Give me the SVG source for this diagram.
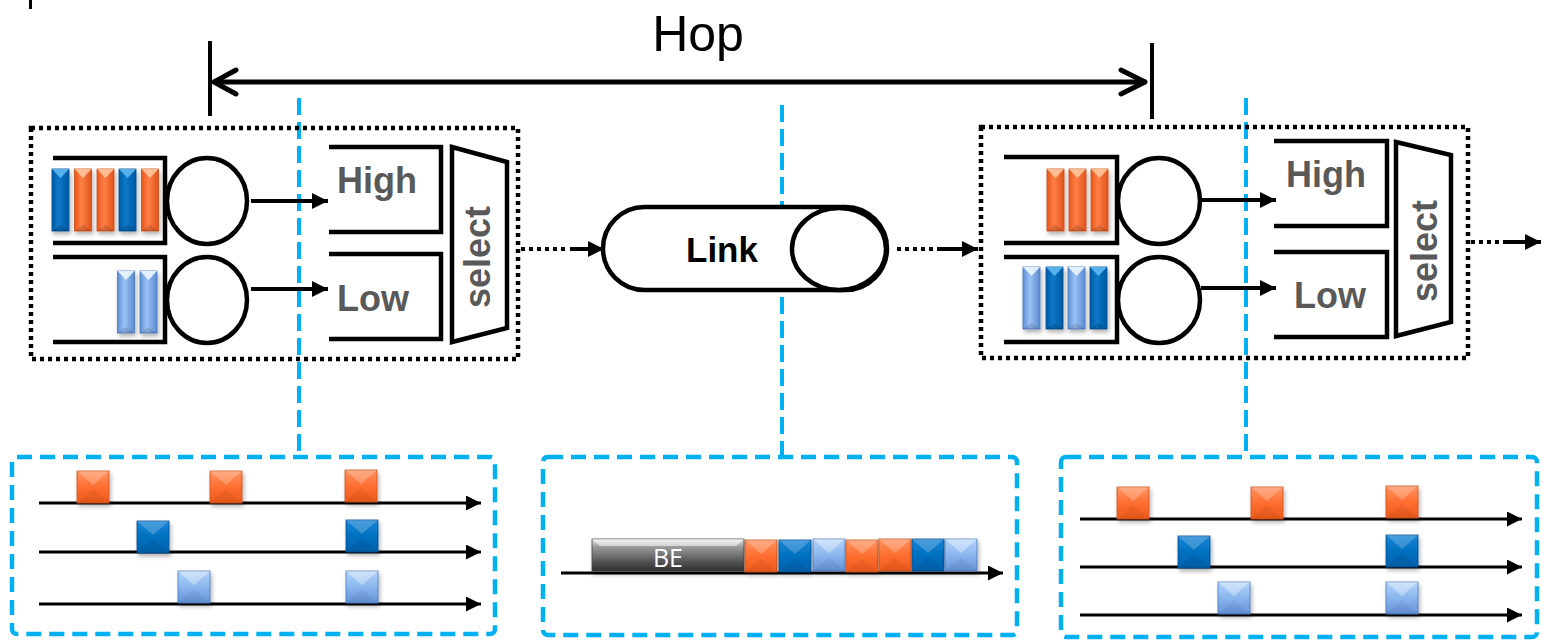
<svg xmlns="http://www.w3.org/2000/svg" xmlns:xlink="http://www.w3.org/1999/xlink" width="1541" height="641" viewBox="0 0 1541 641">
<style>
.ln{fill:none;stroke:#000;stroke-width:4.5;stroke-linejoin:miter}
.dotbox{fill:none;stroke:#000;stroke-width:4.5;stroke-dasharray:4 4}
.blue{fill:none;stroke:#00B0F0;stroke-width:4;stroke-dasharray:17 7}
.bluebox{fill:none;stroke:#00B0F0;stroke-width:4.5;stroke-dasharray:15 8}
.arr{stroke:#000;stroke-width:4;fill:none}
.tl{stroke:#000;stroke-width:3;fill:none}
.dots{stroke:#000;stroke-width:4;stroke-dasharray:4 4;fill:none}
.lab{font-family:"Liberation Sans",Arial,sans-serif;font-weight:bold;font-size:36px;fill:#595959}
.circ{fill:#fff;stroke:#000;stroke-width:4.5}
</style>
<defs>
<marker id="ah" viewBox="0 0 10 10" refX="10" refY="5" markerWidth="4" markerHeight="4" orient="auto" markerUnits="strokeWidth"><path d="M0,0 L10,5 L0,10 z" fill="#000"/></marker>
<marker id="ah2" viewBox="0 0 10 10" refX="10" refY="5" markerWidth="5" markerHeight="5" orient="auto" markerUnits="strokeWidth"><path d="M0,0 L10,5 L0,10 z" fill="#000"/></marker>
<filter id="sh" x="-30%" y="-30%" width="160%" height="160%"><feDropShadow dx="1.5" dy="3" stdDeviation="2" flood-color="#000" flood-opacity="0.3"/></filter>
<linearGradient id="gO" x1="0" y1="0" x2="0" y2="1"><stop offset="0" stop-color="#FF9463"/><stop offset="0.5" stop-color="#FF6E30"/><stop offset="1" stop-color="#EE5A1C"/></linearGradient>
<linearGradient id="gB" x1="0" y1="0" x2="0" y2="1"><stop offset="0" stop-color="#1A86D6"/><stop offset="0.5" stop-color="#0070C0"/><stop offset="1" stop-color="#0062AE"/></linearGradient>
<linearGradient id="gL" x1="0" y1="0" x2="0" y2="1"><stop offset="0" stop-color="#B4D4FA"/><stop offset="0.5" stop-color="#8AB6EE"/><stop offset="1" stop-color="#6594DA"/></linearGradient>
<linearGradient id="gBE" x1="0" y1="0" x2="0" y2="1"><stop offset="0" stop-color="#E6E6E6"/><stop offset="0.25" stop-color="#9A9A9A"/><stop offset="0.7" stop-color="#555"/><stop offset="1" stop-color="#2E2E2E"/></linearGradient>
<linearGradient id="hO" x1="0" y1="0" x2="1" y2="0"><stop offset="0" stop-color="#E8561A"/><stop offset="0.4" stop-color="#FF8048"/><stop offset="1" stop-color="#E0531A"/></linearGradient>
<linearGradient id="hB" x1="0" y1="0" x2="1" y2="0"><stop offset="0" stop-color="#005EA8"/><stop offset="0.4" stop-color="#0A78C8"/><stop offset="1" stop-color="#005AA2"/></linearGradient>
<linearGradient id="hL" x1="0" y1="0" x2="1" y2="0"><stop offset="0" stop-color="#5E8FD6"/><stop offset="0.4" stop-color="#9BC2F4"/><stop offset="1" stop-color="#5A8BD2"/></linearGradient>
<g id="sqO" filter="url(#sh)"><rect width="32" height="32" fill="url(#gO)" stroke="#C8501C" stroke-width="0.8"/><polygon points="0,0 32,0 16,14" fill="#fff" opacity="0.22"/><polygon points="0,32 32,32 16,18" fill="#000" opacity="0.05"/></g>
<g id="sqB" filter="url(#sh)"><rect width="32" height="32" fill="url(#gB)" stroke="#004C8C" stroke-width="0.8"/><polygon points="0,0 32,0 16,14" fill="#fff" opacity="0.2"/><polygon points="0,32 32,32 16,18" fill="#000" opacity="0.06"/></g>
<g id="sqL" filter="url(#sh)"><rect width="32" height="32" fill="url(#gL)" stroke="#4A78BC" stroke-width="0.8"/><polygon points="0,0 32,0 16,14" fill="#fff" opacity="0.35"/><polygon points="0,32 32,32 16,18" fill="#000" opacity="0.05"/></g>
<g id="barO" filter="url(#sh)"><rect width="17" height="62" fill="url(#hO)" stroke="#C8501C" stroke-width="0.8"/><polygon points="0,0 17,0 8.5,9" fill="#FFD0A8" opacity="0.8"/><polygon points="0,62 17,62 8.5,56" fill="#000" opacity="0.15"/></g>
<g id="barB" filter="url(#sh)"><rect width="17" height="62" fill="url(#hB)" stroke="#004C8C" stroke-width="0.8"/><polygon points="0,0 17,0 8.5,9" fill="#5FB8F0" opacity="0.9"/><polygon points="0,62 17,62 8.5,56" fill="#000" opacity="0.15"/></g>
<g id="barL" filter="url(#sh)"><rect width="17" height="62" fill="url(#hL)" stroke="#4A78BC" stroke-width="0.8"/><polygon points="0,0 17,0 8.5,9" fill="#E6F2FF" opacity="0.95"/><polygon points="0,62 17,62 8.5,56" fill="#000" opacity="0.12"/></g>
</defs>

<rect width="1541" height="641" fill="#fff"/>

<g id="hop">
<line x1="30.5" y1="0" x2="30.5" y2="9" stroke="#000" stroke-width="3"/>
<text x="698" y="51" font-family="'Liberation Sans',Arial,sans-serif" font-size="50" text-anchor="middle" fill="#000">Hop</text>
<line x1="210" y1="41" x2="210" y2="116" stroke="#000" stroke-width="4"/>
<line x1="1152" y1="43" x2="1152" y2="119" stroke="#000" stroke-width="4"/>
<line x1="214" y1="82" x2="1146" y2="82" stroke="#000" stroke-width="5"/>
<path d="M236,70 L214,82 L236,94 M1121,70 L1145,82 L1121,94" fill="none" stroke="#000" stroke-width="5" stroke-linecap="round" stroke-linejoin="round"/>
</g>

<g id="connectors">
<line class="blue" x1="299" y1="98" x2="299" y2="457"/>
<line class="blue" x1="782" y1="105" x2="782" y2="457"/>
<line class="blue" x1="1246" y1="98" x2="1246" y2="457"/>
<line class="dots" x1="521" y1="249" x2="566" y2="249"/>
<line class="arr" x1="570" y1="249" x2="604" y2="249" marker-end="url(#ah)"/>
<line class="dots" x1="897" y1="249" x2="940" y2="249"/>
<line class="arr" x1="940" y1="249" x2="978" y2="249" marker-end="url(#ah)"/>
<line class="dots" x1="1471" y1="242" x2="1505" y2="242"/>
<line class="arr" x1="1505" y1="242" x2="1541" y2="242" marker-end="url(#ah)"/>
</g>

<g id="node-left">
<rect class="dotbox" x="31" y="128" width="487" height="231"/>
<path class="ln" d="M53,158 H165 V243 H53"/>
<path class="ln" d="M53,257 H165 V342 H53"/>
<use href="#barB" x="52" y="169"/>
<use href="#barO" x="74.5" y="169"/>
<use href="#barO" x="97" y="169"/>
<use href="#barB" x="119" y="169"/>
<use href="#barO" x="141.5" y="169"/>
<use href="#barL" x="117.5" y="271"/>
<use href="#barL" x="140" y="271"/>
<ellipse class="circ" cx="207" cy="201" rx="40" ry="43"/>
<ellipse class="circ" cx="207" cy="300" rx="40" ry="43"/>
<line class="arr" x1="251" y1="201" x2="328" y2="201" marker-end="url(#ah)"/>
<line class="arr" x1="251" y1="289" x2="328" y2="289" marker-end="url(#ah)"/>
<path class="ln" d="M329,147 H441 V232 H329"/>
<path class="ln" d="M329,254 H441 V339 H329"/>
<text class="lab" x="337" y="193">High</text>
<text class="lab" x="337" y="311">Low</text>
<polygon class="ln" points="452,147 507,162 507,328 452,342"/>
<text class="lab" transform="translate(490,257) rotate(-90)" text-anchor="middle">select</text>
</g>

<g id="link">
<rect x="603" y="207" width="284" height="83" rx="41.5" fill="#fff" stroke="#000" stroke-width="4.5"/>
<ellipse cx="839" cy="249" rx="47" ry="41" fill="#fff" stroke="#000" stroke-width="4.5"/>
<text x="722" y="262" font-family="'Liberation Sans',Arial,sans-serif" font-weight="bold" font-size="35" text-anchor="middle" fill="#000">Link</text>
</g>

<g id="node-right">
<rect class="dotbox" x="981" y="127" width="487" height="231"/>
<path class="ln" d="M1004,157 H1117 V243 H1004"/>
<path class="ln" d="M1004,257 H1117 V342 H1004"/>
<use href="#barO" x="1047" y="169"/>
<use href="#barO" x="1069" y="169"/>
<use href="#barO" x="1091" y="169"/>
<use href="#barL" x="1023" y="267"/>
<use href="#barB" x="1046" y="267"/>
<use href="#barL" x="1068" y="267"/>
<use href="#barB" x="1090" y="267"/>
<ellipse class="circ" cx="1159" cy="201" rx="41" ry="43"/>
<ellipse class="circ" cx="1159" cy="300" rx="41" ry="43"/>
<line class="arr" x1="1201" y1="200" x2="1276" y2="200" marker-end="url(#ah)"/>
<line class="arr" x1="1201" y1="288" x2="1276" y2="288" marker-end="url(#ah)"/>
<path class="ln" d="M1274,141 H1387 V226 H1274"/>
<path class="ln" d="M1274,252 H1387 V337 H1274"/>
<text class="lab" x="1286" y="187">High</text>
<text class="lab" x="1294" y="308">Low</text>
<polygon class="ln" points="1396,142 1451,155 1451,322 1396,336"/>
<text class="lab" transform="translate(1437,251) rotate(-90)" text-anchor="middle">select</text>
</g>

<g id="timeline-left">
<rect class="bluebox" x="12" y="457" width="483" height="177" rx="5"/>
<line class="tl" x1="39" y1="503" x2="481" y2="503" marker-end="url(#ah2)"/>
<line class="tl" x1="39" y1="552" x2="481" y2="552" marker-end="url(#ah2)"/>
<line class="tl" x1="39" y1="604" x2="481" y2="604" marker-end="url(#ah2)"/>
<use href="#sqO" x="77" y="471"/>
<use href="#sqO" x="210" y="471"/>
<use href="#sqO" x="345" y="470"/>
<use href="#sqB" x="137" y="521"/>
<use href="#sqB" x="346" y="520"/>
<use href="#sqL" x="178" y="571"/>
<use href="#sqL" x="346" y="571"/>
</g>

<g id="timeline-mid">
<rect class="bluebox" x="543" y="457" width="474" height="178" rx="5"/>
<line class="tl" x1="561" y1="573" x2="1003" y2="573" marker-end="url(#ah2)"/>
<g filter="url(#sh)">
<rect x="592" y="539" width="152" height="32" fill="url(#gBE)" stroke="#444" stroke-width="0.8"/>
<polygon points="592,539 744,539 736,546 600,546" fill="#fff" opacity="0.5"/>
</g>
<text x="668" y="567" font-family="'Open Sans','Liberation Sans',sans-serif" font-size="25" text-anchor="middle" fill="#fff">BE</text>
<use href="#sqO" x="745" y="540"/>
<use href="#sqB" x="779" y="540"/>
<use href="#sqL" x="813" y="539"/>
<use href="#sqO" x="846" y="540"/>
<use href="#sqO" x="879" y="539"/>
<use href="#sqB" x="912" y="539"/>
<use href="#sqL" x="945" y="539"/>
</g>

<g id="timeline-right">
<rect class="bluebox" x="1061" y="457" width="476" height="180" rx="5"/>
<line class="tl" x1="1080" y1="519" x2="1522" y2="519" marker-end="url(#ah2)"/>
<line class="tl" x1="1080" y1="567" x2="1522" y2="567" marker-end="url(#ah2)"/>
<line class="tl" x1="1080" y1="615" x2="1522" y2="615" marker-end="url(#ah2)"/>
<use href="#sqO" x="1117" y="487"/>
<use href="#sqO" x="1251" y="487"/>
<use href="#sqO" x="1386" y="486"/>
<use href="#sqB" x="1178" y="536"/>
<use href="#sqB" x="1386" y="535"/>
<use href="#sqL" x="1218" y="582"/>
<use href="#sqL" x="1386" y="582"/>
</g>
</svg>
